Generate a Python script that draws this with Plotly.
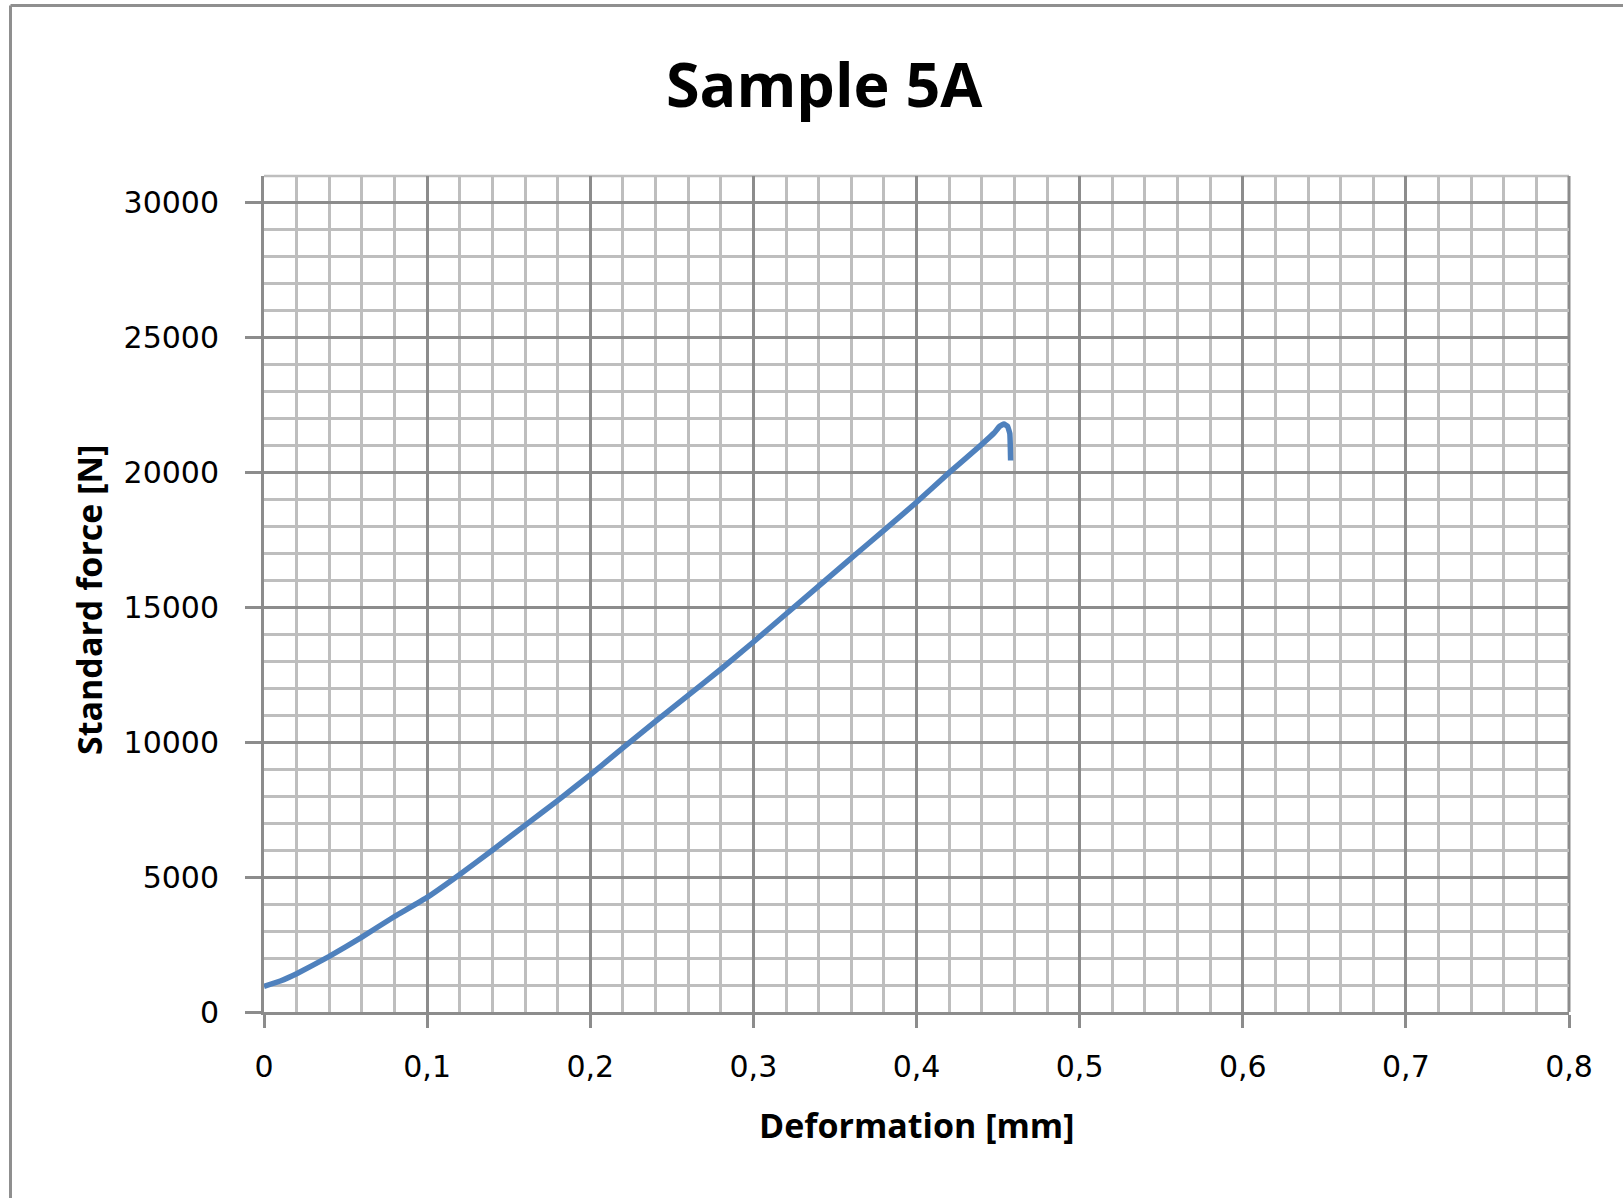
import plotly.graph_objects as go

# Load-deformation record for sample 5A
deformation_mm = [0.0, 0.01, 0.02, 0.04, 0.06, 0.08, 0.10, 0.12, 0.14, 0.16, 0.18,
                  0.20, 0.22, 0.24, 0.26, 0.28, 0.30, 0.32, 0.34, 0.36, 0.38,
                  0.40, 0.42, 0.44, 0.4474, 0.4510, 0.4536, 0.4558, 0.4572, 0.4577]
force_n = [950, 1150, 1420, 2060, 2780, 3540, 4250, 5100, 6000, 6920, 7840,
           8790, 9790, 10780, 11740, 12710, 13720, 14760, 15790, 16830, 17860,
           18900, 20000, 21050, 21460, 21720, 21800, 21720, 21450, 20450]

x_tick_vals = [0, 0.1, 0.2, 0.3, 0.4, 0.5, 0.6, 0.7, 0.8]
x_tick_text = ["0", "0,1", "0,2", "0,3", "0,4", "0,5", "0,6", "0,7", "0,8"]
y_tick_vals = [0, 5000, 10000, 15000, 20000, 25000, 30000]
y_tick_text = ["0", "5000", "10000", "15000", "20000", "25000", "30000"]

title_text = "Sample 5A"
x_title = "Deformation [mm]"
y_title = "Standard force [N]"

MAJOR = "#8c8c8c"
MINOR = "#bebebe"
TICK_FONT = dict(family="DejaVu Sans", size=30, color="#000000")
BOLD_FONT = "Open Sans"

fig = go.Figure()
fig.add_trace(go.Scatter(
    x=deformation_mm, y=force_n, mode="lines",
    line=dict(color="#4f81bd", width=5.5, shape="spline", smoothing=0.3),
    hoverinfo="skip", showlegend=False,
))

fig.update_xaxes(
    range=[0, 0.8], tickvals=x_tick_vals, ticktext=x_tick_text,
    tickfont=TICK_FONT, ticks="outside", ticklen=13, tickwidth=3, tickcolor=MAJOR,
    ticklabelstandoff=13,
    showgrid=True, gridcolor=MAJOR, gridwidth=3,
    minor=dict(dtick=0.02, showgrid=True, gridcolor=MINOR, gridwidth=2.5, ticks=""),
    showline=True, linecolor=MAJOR, linewidth=3, zeroline=False,
)
fig.update_yaxes(
    range=[0, 31000], tickvals=y_tick_vals, ticktext=y_tick_text,
    tickfont=TICK_FONT, ticks="outside", ticklen=16, tickwidth=3, tickcolor=MAJOR,
    ticklabelstandoff=20,
    showgrid=True, gridcolor=MAJOR, gridwidth=3,
    minor=dict(dtick=1000, showgrid=True, gridcolor=MINOR, gridwidth=2.5, ticks=""),
    showline=True, linecolor=MAJOR, linewidth=3, zeroline=False,
)

# Grid lines on the upper and right edges of the plot area
fig.add_shape(type="line", xref="paper", yref="paper", layer="below",
              x0=0, x1=1, y0=1, y1=1, line=dict(color=MINOR, width=2.5))
fig.add_shape(type="line", xref="paper", yref="paper", layer="below",
              x0=1, x1=1, y0=0, y1=1, line=dict(color=MAJOR, width=3))

fig.add_annotation(
    text=f"<b>{title_text}</b>", xref="paper", yref="paper",
    x=(824 - 264) / 1305, y=(1012 - 84) / 836, xanchor="center", yanchor="middle",
    showarrow=False, font=dict(family=BOLD_FONT, size=61, color="#000000"),
)
fig.add_annotation(
    text=f"<b>{x_title}</b>", xref="paper", yref="paper",
    x=0.5, y=(1012 - 1125) / 836, xanchor="center", yanchor="middle",
    showarrow=False, font=dict(family=BOLD_FONT, size=34, color="#000000"),
)
fig.add_annotation(
    text=f"<b>{y_title}</b>", xref="paper", yref="paper", textangle=-90,
    x=(89 - 264) / 1305, y=(1012 - 600) / 836, xanchor="center", yanchor="middle",
    showarrow=False, font=dict(family=BOLD_FONT, size=34, color="#000000"),
)

# Chart frame on the left and top edges
fig.add_shape(type="line", xref="paper", yref="paper",
              x0=(10.5 - 264) / 1305, x1=(10.5 - 264) / 1305,
              y0=-0.3, y1=(1012 - 5.5) / 836,
              line=dict(color="#8f8f8f", width=3))
fig.add_shape(type="line", xref="paper", yref="paper",
              x0=(10.5 - 264) / 1305, x1=1.2,
              y0=(1012 - 5.5) / 836, y1=(1012 - 5.5) / 836,
              line=dict(color="#8f8f8f", width=3))

fig.update_layout(
    width=1623, height=1198,
    margin=dict(l=264, r=54, t=176, b=186),
    paper_bgcolor="#ffffff", plot_bgcolor="#ffffff",
)

fig.write_html("out.html")
